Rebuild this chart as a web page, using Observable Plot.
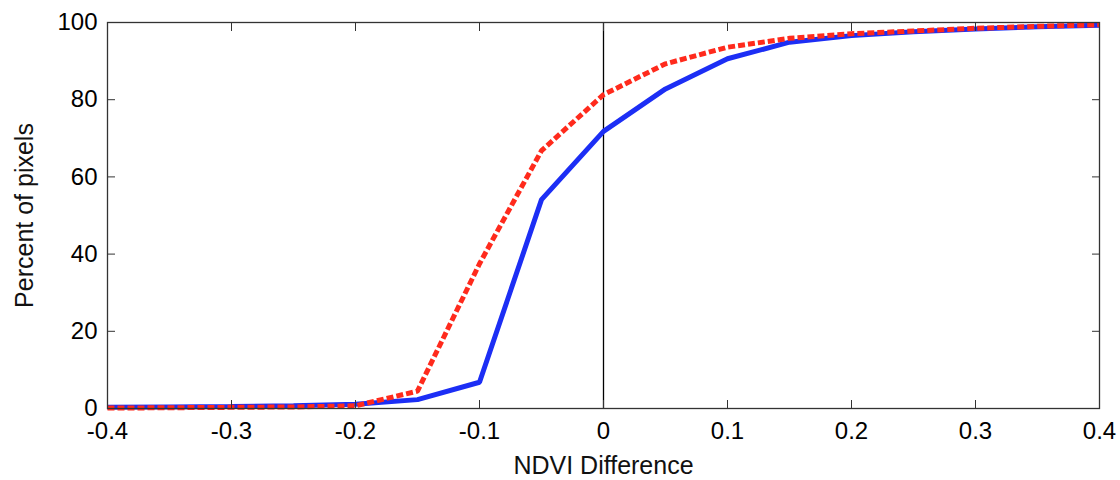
<!DOCTYPE html>
<html>
<head>
<meta charset="utf-8">
<script src="https://cdn.jsdelivr.net/npm/d3@7"></script>
<script src="https://cdn.jsdelivr.net/npm/@observablehq/plot@0.6"></script>
<style>
  html, body { margin: 0; padding: 0; background: #fff; }
  svg { font-family: "Liberation Sans", Arial, sans-serif; }
</style>
</head>
<body>
<div id="chart"></div>
<script>
const ndvi = [-0.4, -0.35, -0.3, -0.25, -0.2, -0.15, -0.1, -0.05, 0, 0.05, 0.1, 0.15, 0.2, 0.25, 0.3, 0.35, 0.4];
const blueSeries = [0.3, 0.4, 0.5, 0.7, 1.1, 2.3, 6.8, 54.1, 71.8, 82.8, 90.6, 94.9, 96.6, 97.6, 98.3, 98.9, 99.3];
const redSeries  = [0.1, 0.2, 0.3, 0.4, 0.7, 4.5, 37.5, 66.8, 81.3, 89.3, 93.6, 95.9, 97.1, 97.8, 98.5, 99.0, 99.4];
const xTicks = [-0.4, -0.3, -0.2, -0.1, 0, 0.1, 0.2, 0.3, 0.4];
const yTicks = [0, 20, 40, 60, 80, 100];

const blueData = ndvi.map((x, i) => ({x, y: blueSeries[i]}));
const redData = ndvi.map((x, i) => ({x, y: redSeries[i]}));
const fmtX = d => d === 0 ? "0" : (d < 0 ? "-" : "") + Math.abs(d).toFixed(1);

const chart = Plot.plot({
  width: 1120,
  height: 480,
  marginLeft: 107,
  marginRight: 21,
  marginTop: 22,
  marginBottom: 72,
  style: {fontFamily: "'Liberation Sans', Arial, sans-serif", background: "#fff", color: "#000"},
  x: {domain: [-0.4, 0.4]},
  y: {domain: [0, 100]},
  marks: [
    Plot.ruleX([0], {stroke: "#000", strokeWidth: 1.3}),
    Plot.line(blueData, {x: "x", y: "y", stroke: "#1c2ef5", strokeWidth: 5, strokeLinejoin: "miter", strokeLinecap: "butt"}),
    Plot.line(redData, {x: "x", y: "y", stroke: "#ff2a1c", strokeWidth: 5, strokeDasharray: "7,3", strokeLinecap: "butt", strokeLinejoin: "miter"}),
    Plot.frame({stroke: "#333", strokeWidth: 1.3}),
    Plot.axisX({anchor: "bottom", ticks: xTicks, tickFormat: fmtX, tickSize: -8, tickPadding: 21, fontSize: 24, label: null, stroke: "#333"}),
    Plot.axisX({anchor: "top", ticks: xTicks, tickFormat: () => "", tickSize: -8, label: null, stroke: "#333"}),
    Plot.axisY({anchor: "left", ticks: yTicks, tickSize: -8, tickPadding: 18, fontSize: 24, label: null, stroke: "#333"}),
    Plot.axisY({anchor: "right", ticks: yTicks, tickFormat: () => "", tickSize: -8, label: null, stroke: "#333"}),
    Plot.text(["NDVI Difference"], {frameAnchor: "bottom", dy: 57, lineAnchor: "middle", textAnchor: "middle", fontSize: 25, fill: "#111"}),
    Plot.text(["Percent of pixels"], {frameAnchor: "left", dx: -83, rotate: -90, lineAnchor: "middle", textAnchor: "middle", fontSize: 25, fill: "#111"})
  ]
});
document.getElementById("chart").appendChild(chart);
</script>
</body>
</html>
